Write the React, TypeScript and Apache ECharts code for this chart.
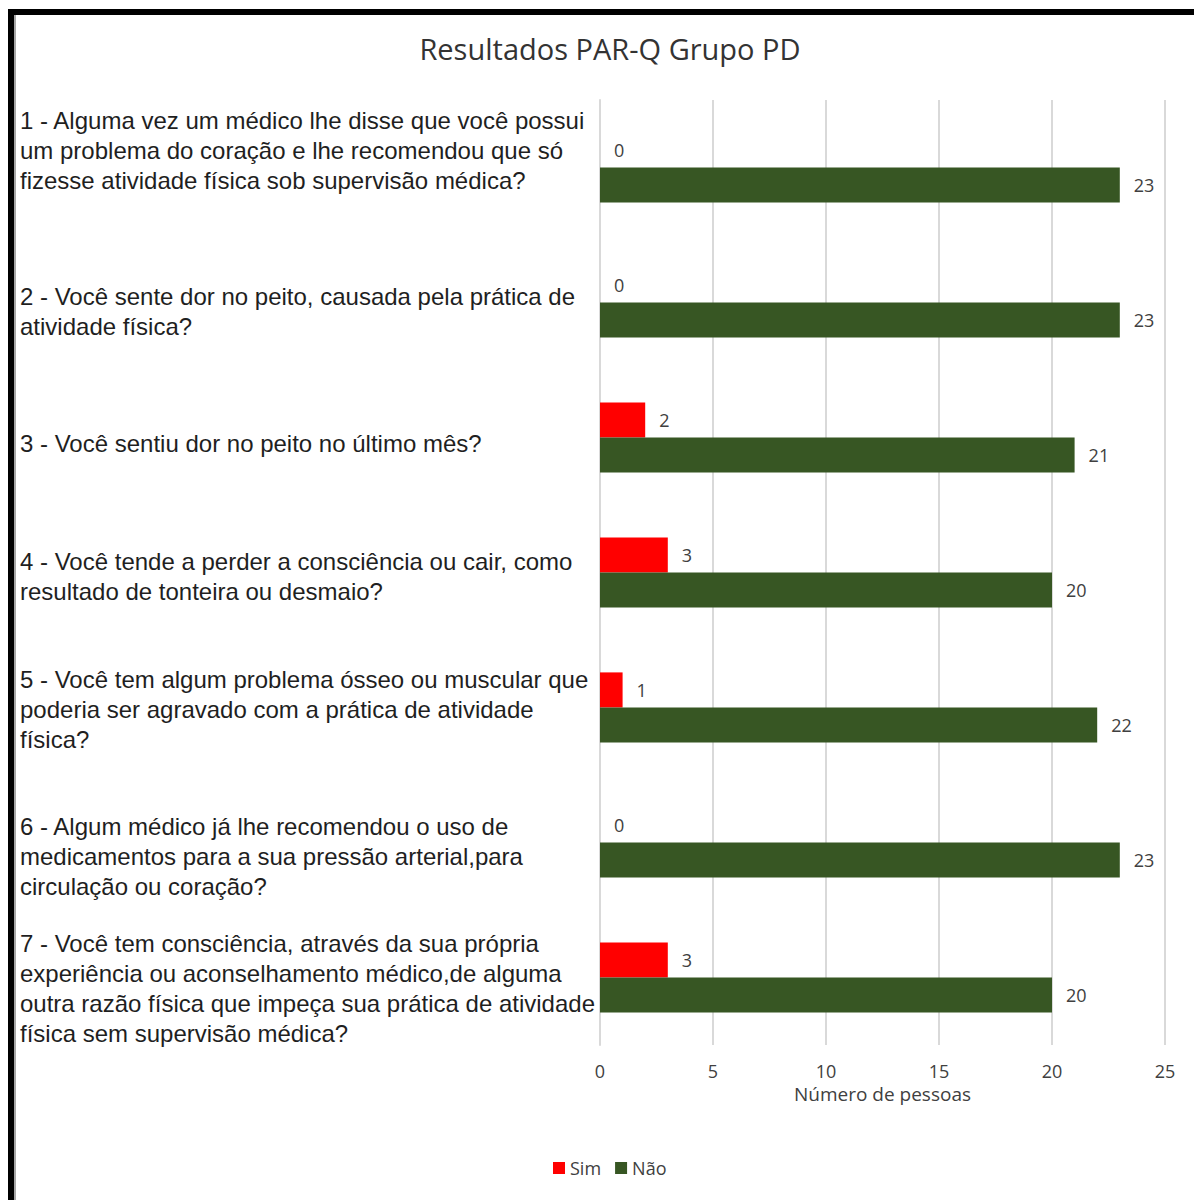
import React, { useEffect, useRef } from "react";
import * as echarts from "echarts";

const categories = [
  "1 - Alguma vez um médico lhe disse que você possui\num problema do coração e lhe recomendou que só\nfizesse atividade física sob supervisão médica?",
  "2 - Você sente dor no peito, causada pela prática de\natividade física?",
  "3 - Você sentiu dor no peito no último mês?",
  "4 - Você tende a perder a consciência ou cair, como\nresultado de tonteira ou desmaio?",
  "5 - Você tem algum problema ósseo ou muscular que\npoderia ser agravado com a prática de atividade\nfísica?",
  "6 - Algum médico já lhe recomendou o uso de\nmedicamentos para a sua pressão arterial,para\ncirculação ou coração?",
  "7 - Você tem consciência, através da sua própria\nexperiência ou aconselhamento médico,de alguma\noutra razão física que impeça sua prática de atividade\nfísica sem supervisão médica?",
];
const simValues = [0, 0, 2, 3, 1, 0, 3];
const naoValues = [23, 23, 21, 20, 22, 23, 20];
const seriesNames = ["Sim", "Não"];
const xTicks = { min: 0, max: 25, interval: 5 };

// vertical shift (px) of each category label relative to band centre (+ = down)
const labelShift = [-17, 9, 6, 4, 2, 14, 11];

export default function App() {
  const ref = useRef<HTMLDivElement>(null);
  useEffect(() => {
    const chart = echarts.init(ref.current!, null, { renderer: "svg" });
    const font = "'Liberation Sans', Arial, sans-serif";
    const narrow = "'Liberation Sans Narrow', 'Open Sans', 'Liberation Sans', sans-serif";
    const rich: Record<string, any> = {
      t: { fontFamily: font, fontSize: 24, lineHeight: 30, color: "#1f1f1f" },
    };
    labelShift.forEach((s, i) => {
      rich["g" + i] = { fontSize: 1, lineHeight: Math.max(1, Math.abs(s) * 2) };
    });
    chart.setOption({
      animation: false,
      backgroundColor: "#ffffff",
      title: {
        text: "Resultados PAR-Q Grupo PD",
        left: 605,
        textAlign: "center",
        top: 29,
        textStyle: { fontFamily: narrow, fontSize: 29, fontWeight: "normal", color: "#333333" },
      },
      legend: {
        bottom: 18,
        left: 548,
        itemWidth: 12,
        itemHeight: 12,
        itemGap: 14,
        icon: "rect",
        textStyle: { fontFamily: narrow, fontSize: 18, color: "#404040" },
        data: seriesNames,
      },
      grid: {
        left: 600,
        right: 29,
        top: 100,
        bottom: 155,
        containLabel: false,
        outerBoundsMode: "none",
      },
      xAxis: {
        type: "value",
        min: xTicks.min,
        max: xTicks.max,
        interval: xTicks.interval,
        name: "Número de pessoas",
        nameLocation: "middle",
        nameGap: 39,
        nameTextStyle: { fontFamily: narrow, fontSize: 19, color: "#404040" },
        axisLine: { show: false },
        axisTick: { show: false },
        axisLabel: { margin: 17, fontFamily: narrow, fontSize: 18, color: "#404040" },
        splitLine: { show: true, lineStyle: { color: "#d9d9d9", width: 2 } },
      },
      yAxis: {
        type: "category",
        inverse: true,
        data: categories,
        axisLine: { show: true, lineStyle: { color: "#d9d9d9", width: 2 } },
        axisTick: { show: false },
        axisLabel: {
          align: "left",
          margin: 580,
          fontFamily: font,
          fontSize: 24,
          lineHeight: 30,
          color: "#1f1f1f",
          rich,
          formatter: (value: string, index: number) => {
            const lines = value.split("\n").map((l) => "{t|" + l + "}");
            const s = labelShift[index] || 0;
            const gap = "{g" + index + "| }";
            if (s > 0) return [gap, ...lines].join("\n");
            if (s < 0) return [...lines, gap].join("\n");
            return lines.join("\n");
          },
        },
      },
      series: [
        {
          name: seriesNames[0],
          type: "bar",
          data: simValues,
          barGap: "0%",
          barCategoryGap: "48%",
          itemStyle: { color: "#ff0000" },
          label: {
            show: true,
            position: "right",
            distance: 14,
            fontFamily: narrow,
            fontSize: 18,
            color: "#404040",
          },
        },
        {
          name: seriesNames[1],
          type: "bar",
          data: naoValues,
          barGap: "0%",
          barCategoryGap: "48%",
          itemStyle: { color: "#375623" },
          label: {
            show: true,
            position: "right",
            distance: 14,
            fontFamily: narrow,
            fontSize: 18,
            color: "#404040",
          },
        },
      ],
      graphic: [
        { type: "rect", shape: { x: 8, y: 9, width: 1186, height: 6 }, style: { fill: "#000000" } },
        { type: "rect", shape: { x: 8, y: 9, width: 6, height: 1191 }, style: { fill: "#000000" } },
        { type: "rect", shape: { x: 14, y: 15, width: 2, height: 1185 }, style: { fill: "#a6a6a6" } },
      ],
    });
    return () => chart.dispose();
  }, []);
  return (
    <div
      ref={ref}
      style={{ position: "fixed", left: 0, top: 0, width: 1194, height: 1200 }}
    />
  );
}
